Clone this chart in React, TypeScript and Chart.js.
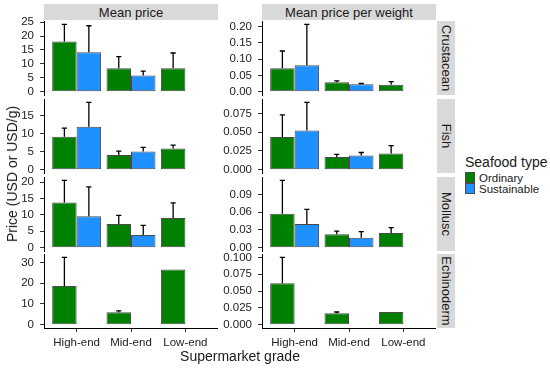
import React, { useEffect, useRef } from 'react';
import { Chart, registerables } from 'chart.js';

Chart.register(...registerables);

const grades = ['High-end', 'Mid-end', 'Low-end'];
const seafoodTypes = ['Crustacean', 'Fish', 'Mollusc', 'Echinoderm'];
const measures = ['Mean price', 'Mean price per weight'];
const seriesNames = ['Ordinary', 'Sustainable'];

// Mean price (USD); rows follow seafoodTypes, columns follow grades
const priceOrdinary = [[18.0, 8.4, 8.4], [9.2, 4.1, 5.9], [13.8, 7.2, 9.1], [18.6, 6.0, 26.6]];
const priceOrdinaryUpper = [[24.2, 12.6, 13.9], [11.6, 5.2, 6.85], [20.6, 9.9, 13.7], [32.4, 6.6, null]];
const priceSustainable = [[14.2, 5.8, null], [12.0, 5.1, null], [9.6, 3.85, null], [null, null, null]];
const priceSustainableUpper = [[23.7, 7.4, null], [18.8, 6.2, null], [18.6, 6.8, null], [null, null, null]];

// Mean price per weight (USD/g)
const weightOrdinary = [[0.072, 0.029, 0.021], [0.0437, 0.0168, 0.0216], [0.0574, 0.0225, 0.0247], [0.0614, 0.0169, 0.0188]];
const weightOrdinaryUpper = [[0.125, 0.033, 0.031], [0.0732, 0.0203, 0.032], [0.114, 0.028, 0.034], [0.1, 0.0188, null]];
const weightSustainable = [[0.081, 0.023, null], [0.0525, 0.019, null], [0.04, 0.0169, null], [null, null, null]];
const weightSustainableUpper = [[0.207, 0.025, null], [0.09, 0.0229, null], [0.0647, 0.027, null], [null, null, null]];

const priceTicks = [[0, 5, 10, 15, 20, 25], [0, 5, 10, 15], [0, 5, 10, 15, 20], [0, 10, 20, 30]];
const weightTicks = [[0, 0.05, 0.1, 0.15, 0.2], [0, 0.025, 0.05, 0.075], [0, 0.03, 0.06, 0.09], [0, 0.025, 0.05, 0.075, 0.1]];
const weightDecimals = [2, 3, 2, 3];

const GREEN = '#008000';
const BLUE = '#1E90FF';
const OUTLINE = '#4a4a4a';
const STRIP = '#D9D9D9';
const TEXT = '#1A1A1A';
const AXIS_TEXT = '#222222';
const FONT = "'Liberation Sans', Arial, Helvetica, sans-serif";

const ROW_TOPS = [21, 99, 177, 254];
const PANEL_H = 74;
const PAD = 8;
const AXIS_W = 44;
const CANVAS_W = 218;
const X_AXIS_H = 30;

const errorBarPlugin = {
  id: 'errorBars',
  afterDatasetsDraw(chart: any) {
    const ctx = chart.ctx;
    const yScale = chart.scales.y;
    chart.data.datasets.forEach((ds: any, di: number) => {
      const meta = chart.getDatasetMeta(di);
      meta.data.forEach((el: any, i: number) => {
        const v = ds.data[i].y;
        const u = ds.upper[i];
        if (v == null || u == null) return;
        const x = el.x;
        const yv = yScale.getPixelForValue(v);
        const yu = yScale.getPixelForValue(u);
        ctx.save();
        ctx.strokeStyle = '#000';
        ctx.lineWidth = 1.3;
        ctx.beginPath();
        ctx.moveTo(x, yv);
        ctx.lineTo(x, yu);
        ctx.moveTo(x - 2.6, yu);
        ctx.lineTo(x + 2.6, yu);
        ctx.stroke();
        ctx.restore();
      });
    });
  },
};

function buildChart(canvas: HTMLCanvasElement, row: number, col: number) {
  const isPrice = col === 0;
  const ord = isPrice ? priceOrdinary[row] : weightOrdinary[row];
  const ordUp = isPrice ? priceOrdinaryUpper[row] : weightOrdinaryUpper[row];
  const sus = isPrice ? priceSustainable[row] : weightSustainable[row];
  const susUp = isPrice ? priceSustainableUpper[row] : weightSustainableUpper[row];
  const all = [...ord, ...ordUp, ...sus, ...susUp].filter((v) => v != null) as number[];
  const maxV = Math.max(...all);
  const yMin = -0.05 * maxV;
  const yMax = 1.05 * maxV;
  const ticks = isPrice ? priceTicks[row] : weightTicks[row];
  const dec = isPrice ? 0 : weightDecimals[row];
  const bottom = row === seafoodTypes.length - 1;

  const mk = (label: string, vals: (number | null)[], ups: (number | null)[], color: string) => ({
    label,
    data: grades.map((_, i) => ({ x: i + 1, y: vals[i] })),
    upper: ups,
    backgroundColor: color,
    borderColor: OUTLINE,
    borderWidth: 1,
    borderSkipped: false,
    categoryPercentage: 0.9,
    barPercentage: 1,
  });

  return new Chart(canvas, {
    type: 'bar',
    data: {
      datasets: [
        mk(seriesNames[0], ord, ordUp, GREEN),
        mk(seriesNames[1], sus, susUp, BLUE),
      ] as any,
    },
    options: {
      animation: false,
      responsive: false,
      devicePixelRatio: 1,
      layout: { padding: { top: PAD, bottom: bottom ? 0 : PAD, left: 0, right: 0 } },
      plugins: { legend: { display: false }, tooltip: { enabled: false } },
      scales: {
        x: {
          type: 'linear',
          min: 0.4,
          max: 3.6,
          offset: false,
          display: bottom,
          grid: { drawOnChartArea: false, drawTicks: true, tickLength: 4, color: '#000', tickColor: '#333', offset: false },
          border: { display: true, color: '#000', width: 1 },
          ticks: {
            padding: 4,
            color: AXIS_TEXT,
            font: { family: FONT, size: 11.5 },
            autoSkip: false,
            maxRotation: 0,
            minRotation: 0,
            callback: (v: any) => grades[Math.round(Number(v)) - 1] ?? '',
          },
          afterBuildTicks: (s: any) => {
            s.ticks = grades.map((_, i) => ({ value: i + 1 }));
          },
          afterFit: (s: any) => {
            s.height = bottom ? X_AXIS_H : 0;
            s.paddingLeft = 0;
            s.paddingRight = 0;
          },
        },
        y: {
          type: 'linear',
          min: yMin,
          max: yMax,
          grid: { drawOnChartArea: false, drawTicks: true, tickLength: 4, color: '#000', tickColor: '#333' },
          border: { display: true, color: '#000', width: 1 },
          ticks: {
            padding: 6,
            color: AXIS_TEXT,
            autoSkip: false,
            font: { family: FONT, size: 11.5 },
            callback: (v: any) => Number(v).toFixed(dec),
          },
          afterBuildTicks: (s: any) => {
            s.ticks = ticks.map((v) => ({ value: v }));
          },
          afterFit: (s: any) => {
            s.width = AXIS_W;
            s.paddingTop = 0;
            s.paddingBottom = 0;
          },
        },
      },
    } as any,
    plugins: [errorBarPlugin],
  });
}

export default function App() {
  const refs = useRef<(HTMLCanvasElement | null)[]>([]);

  useEffect(() => {
    const charts: Chart[] = [];
    seafoodTypes.forEach((_, r) => {
      measures.forEach((__, c) => {
        const cv = refs.current[r * 2 + c];
        if (cv) charts.push(buildChart(cv, r, c));
      });
    });
    return () => charts.forEach((ch) => ch.destroy());
  }, []);

  const canvases: React.ReactNode[] = [];
  seafoodTypes.forEach((_, r) => {
    measures.forEach((__, c) => {
      const h = PAD + PANEL_H + (r === seafoodTypes.length - 1 ? X_AXIS_H : PAD);
      canvases.push(
        <canvas
          key={`c${r}${c}`}
          ref={(el) => { refs.current[r * 2 + c] = el; }}
          width={CANVAS_W}
          height={h}
          style={{ position: 'absolute', left: c * CANVAS_W, top: ROW_TOPS[r] - PAD, width: CANVAS_W, height: h }}
        />
      );
    });
  });

  return (
    <div style={{ position: 'absolute', left: 0, top: 0, width: 550, height: 369, background: '#fff', overflow: 'hidden', fontFamily: FONT, color: TEXT }}>
      {canvases}
      {measures.map((m, c) => (
        <div
          key={m}
          style={{
            position: 'absolute', left: c * CANVAS_W + AXIS_W, top: 4, width: CANVAS_W - AXIS_W, height: 16,
            background: STRIP, display: 'flex', alignItems: 'center', justifyContent: 'center', fontSize: 13, lineHeight: 1,
          }}
        >
          {m}
        </div>
      ))}
      {seafoodTypes.map((s, r) => (
        <div
          key={s}
          style={{ position: 'absolute', left: 437, top: ROW_TOPS[r], width: 18, height: PANEL_H, background: STRIP }}
        >
          <span
            style={{
              position: 'absolute', left: '50%', top: '50%', transform: 'translate(-50%, -50%) rotate(90deg)',
              whiteSpace: 'nowrap', fontSize: 13, lineHeight: 1,
            }}
          >
            {s}
          </span>
        </div>
      ))}
      <span
        style={{
          position: 'absolute', left: 11.5, top: 174, transform: 'translate(-50%, -50%) rotate(-90deg)',
          whiteSpace: 'nowrap', fontSize: 14,
        }}
      >
        Price (USD or USD/g)
      </span>
      <span
        style={{ position: 'absolute', left: 240, top: 356, transform: 'translate(-50%, -50%)', whiteSpace: 'nowrap', fontSize: 14 }}
      >
        Supermarket grade
      </span>
      <div style={{ position: 'absolute', left: 465, top: 154, fontSize: 14, lineHeight: '16px', whiteSpace: 'nowrap' }}>Seafood type</div>
      {seriesNames.map((n, i) => (
        <React.Fragment key={n}>
          <div
            style={{
              position: 'absolute', left: 465, top: 172 + i * 11, width: 10, height: 11, boxSizing: 'border-box',
              background: i === 0 ? GREEN : BLUE, border: `1px solid ${OUTLINE}`,
            }}
          />
          <div style={{ position: 'absolute', left: 479, top: 171.5 + i * 11, fontSize: 11.5, lineHeight: '13px', whiteSpace: 'nowrap' }}>{n}</div>
        </React.Fragment>
      ))}
    </div>
  );
}
